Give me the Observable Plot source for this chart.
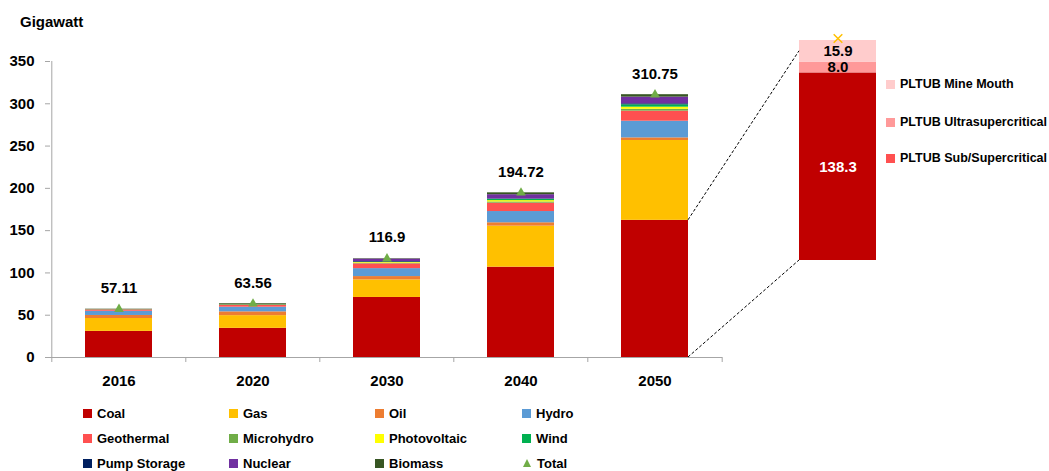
<!DOCTYPE html>
<html>
<head>
<meta charset="utf-8">
<script src="https://cdn.jsdelivr.net/npm/d3@7"></script>
<script src="https://cdn.jsdelivr.net/npm/@observablehq/plot@0.6"></script>
<style>
  html, body { margin: 0; padding: 0; background: #fff; }
  #wrap { position: relative; width: 1049px; height: 471px; overflow: hidden;
          font-family: "Liberation Sans", Arial, sans-serif; font-weight: bold; color: #000; }
  .abs { position: absolute; }
  .title { left: 20px; top: 13px; font-size: 15px; }
  .leg { position: absolute; display: flex; align-items: center; font-size: 13px; white-space: nowrap; height: 20px; }
  .sw { width: 9px; height: 9px; margin-right: 5px; flex: none; }
  .tri { width: 0; height: 0; border-left: 4px solid transparent; border-right: 4px solid transparent;
         border-bottom: 8px solid #70AD47; margin-right: 6px; margin-left: 1px; }
  .ileg { position: absolute; display: flex; align-items: center; font-size: 12.5px; white-space: nowrap; height: 20px; }
</style>
</head>
<body>
<div id="wrap"></div>
<script>
// ---------- data ----------
const years = ["2016", "2020", "2030", "2040", "2050"];
const sources = ["Coal", "Gas", "Oil", "Hydro", "Geothermal", "Microhydro", "Photovoltaic", "Wind", "Pump Storage", "Nuclear", "Biomass"];
const sourceColors = ["#C00000", "#FFC000", "#ED7D31", "#5B9BD5", "#FF5050", "#70AD47", "#FFFF00", "#00B050", "#002060", "#7030A0", "#375623"];

const coal        = [30.9, 34.5, 71.0, 106.8, 162.2];
const gas         = [15.2, 15.0, 20.8, 48.5, 94.4];
const oil         = [3.6, 4.5, 3.9, 4.0, 3.1];
const hydro       = [5.0, 5.5, 9.4, 13.3, 19.7];
const geothermal  = [1.5, 2.0, 5.6, 9.9, 11.9];
const microhydro  = [0.2, 0.3, 0.8, 1.4, 2.2];
const photovoltaic= [0.05, 0.2, 0.8, 1.6, 2.5];
const wind        = [0.05, 0.2, 0.4, 1.5, 2.8];
const pumpStorage = [0, 0, 0.8, 0.5, 1.2];
const nuclear     = [0, 0, 2.9, 5.0, 7.9];
const biomass     = [0.61, 1.36, 0.5, 2.22, 2.85];

const totals = [57.11, 63.56, 116.9, 194.72, 310.75];
const totalLabels = ["57.11", "63.56", "116.9", "194.72", "310.75"];
const totalColor = "#70AD47";

const yTicks = [0, 50, 100, 150, 200, 250, 300, 350];

const insetTypes = ["PLTUB Sub/Supercritical", "PLTUB Ultrasupercritical", "PLTUB Mine Mouth"];
const insetValues = [138.3, 8.0, 15.9];
const insetColors = ["#C00000", "#FF9999", "#FFCCCC"];
const insetLegendColors = ["#FF5050", "#FF9999", "#FFCCCC"];
const insetLabelColors = ["#FFFFFF", "#000000", "#000000"];
const insetCategory = "2050 Coal";

// ---------- build tables ----------
const seriesValues = [coal, gas, oil, hydro, geothermal, microhydro, photovoltaic, wind, pumpStorage, nuclear, biomass];
const rows = [];
years.forEach((yr, i) => sources.forEach((s, j) => rows.push({year: yr, source: s, value: seriesValues[j][i]})));
const totalRows = years.map((yr, i) => ({year: yr, total: totals[i], label: totalLabels[i]}));
const insetRows = insetTypes.map((t, i) => ({cat: insetCategory, type: t, value: insetValues[i], label: d3.format(".1f")(insetValues[i]), lc: insetLabelColors[i]}));

const wrap = document.getElementById("wrap");
const font = '"Liberation Sans", Arial, sans-serif';
const axisGray = "#A6A6A6";

// ---------- main chart ----------
const W = 760, H = 400, mL = 50, mR = 38, mT = 61, mB = 43;
const step = (W - mL - mR) / years.length;
const main = Plot.plot({
  width: W, height: H,
  marginLeft: mL, marginRight: mR, marginTop: mT, marginBottom: mB,
  style: {fontFamily: font, fontSize: "15px", fontWeight: "bold", color: "#000", background: "transparent"},
  x: {domain: years, paddingInner: 0.5, paddingOuter: 0.25, label: null},
  y: {domain: [0, 350], label: null},
  color: {domain: sources, range: sourceColors},
  marks: [
    Plot.barY(rows, {x: "year", y: "value", fill: "source", order: sources}),
    Plot.ruleX([years[0]], {y1: 0, y2: 350, dx: -step / 2, stroke: axisGray}),
    Plot.ruleY([0], {stroke: axisGray}),
    Plot.axisY({ticks: yTicks, tickSize: 5, tickPadding: 11, stroke: axisGray, fill: "#000", fontWeight: "bold", fontSize: 15, label: null}),
    Plot.axisX({tickSize: 0, tickPadding: 18, fill: "#000", fontWeight: "bold", fontSize: 15, label: null}),
    Plot.axisX({tickSize: 5, tickFormat: () => "", dx: -step / 2, stroke: axisGray, label: null}),
    Plot.axisX({ticks: [years[years.length - 1]], tickSize: 5, tickFormat: () => "", dx: step / 2, stroke: axisGray, label: null}),
    Plot.dot(totalRows, {x: "year", y: "total", symbol: "triangle", fill: totalColor, r: 3.6}),
    Plot.text(totalRows, {x: "year", y: "total", text: "label", dy: -21, fontSize: 15, fontWeight: "bold", fill: "#000"})
  ]
});
main.classList.add("abs");
main.style.left = "0px"; main.style.top = "0px";
wrap.appendChild(main);

const title = document.createElement("div");
title.className = "abs title";
title.textContent = "Gigawatt";
wrap.appendChild(title);

// ---------- inset chart ----------
const insetLeft = 780;
const inset = Plot.plot({
  width: 110, height: 270,
  marginLeft: 19, marginRight: 14, marginTop: 40, marginBottom: 10,
  style: {fontFamily: font, fontSize: "15px", fontWeight: "bold", background: "transparent"},
  x: {domain: [insetCategory], padding: 0, axis: null},
  y: {domain: [0, d3.sum(insetValues)], axis: null},
  color: {domain: insetTypes, range: insetColors},
  marks: [
    Plot.barY(insetRows, {x: "cat", y: "value", fill: "type", order: insetTypes}),
    Plot.text(insetRows, Plot.stackY({x: "cat", y: "value", z: "type", order: insetTypes, text: "label", fill: "lc", fontSize: 15, fontWeight: "bold"})),
    Plot.dot([d3.sum(insetValues)], {x: () => insetCategory, y: d => d, symbol: "times", stroke: "#FFC000", r: 4, strokeWidth: 1.5, dy: -2})
  ]
});
inset.classList.add("abs");
inset.style.left = insetLeft + "px"; inset.style.top = "0px";
wrap.appendChild(inset);

// ---------- connector lines (derived from both scales) ----------
const mx = main.scale("x"), my = main.scale("y");
const ix = inset.scale("x"), iy = inset.scale("y");
const last = years.length - 1;
const barRight = mx.apply(years[last]) + mx.bandwidth;
const insetBarLeft = insetLeft + ix.apply(insetCategory);
const insetTotal = d3.sum(insetValues);
const topTarget = iy.apply(insetTotal - insetValues[insetValues.length - 1] / 2);
const ov = d3.create("svg").attr("width", 1049).attr("height", 471)
  .attr("class", "abs").style("left", "0px").style("top", "0px").style("pointer-events", "none");
ov.append("line").attr("x1", barRight).attr("y1", my.apply(coal[last])).attr("x2", insetBarLeft).attr("y2", topTarget)
  .attr("stroke", "#000").attr("stroke-dasharray", "3,2");
ov.append("line").attr("x1", barRight).attr("y1", my.apply(0)).attr("x2", insetBarLeft).attr("y2", iy.apply(0))
  .attr("stroke", "#000").attr("stroke-dasharray", "3,2");
wrap.appendChild(ov.node());

// ---------- main legend ----------
const colX = [83, 229, 375, 522];
const rowY = [413, 438, 463];
const legItems = sources.map((s, i) => ({name: s, color: sourceColors[i]})).concat([{name: "Total", tri: true}]);
legItems.forEach((it, i) => {
  const el = document.createElement("div");
  el.className = "leg";
  el.style.left = colX[i % 4] + "px";
  el.style.top = (rowY[Math.floor(i / 4)] - 10) + "px";
  const sw = document.createElement("span");
  if (it.tri) sw.className = "tri"; else { sw.className = "sw"; sw.style.background = it.color; }
  el.appendChild(sw);
  el.appendChild(document.createTextNode(it.name));
  wrap.appendChild(el);
});

// ---------- inset legend ----------
const iRowY = [84, 122, 158];
insetTypes.slice().reverse().forEach((t, k) => {
  const idx = insetTypes.indexOf(t);
  const el = document.createElement("div");
  el.className = "ileg";
  el.style.left = "886px";
  el.style.top = (iRowY[k] - 10) + "px";
  const sw = document.createElement("span");
  sw.className = "sw"; sw.style.background = insetLegendColors[idx];
  el.appendChild(sw);
  el.appendChild(document.createTextNode(t));
  wrap.appendChild(el);
});
</script>
</body>
</html>
